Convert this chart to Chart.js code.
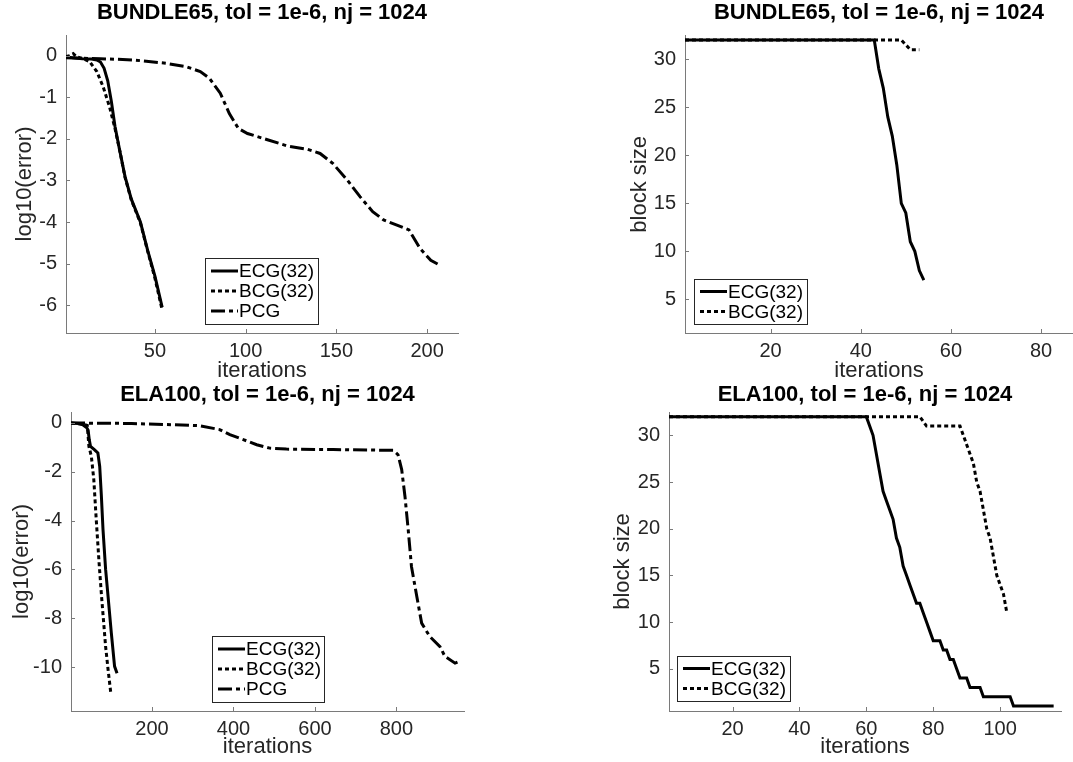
<!DOCTYPE html>
<html>
<head>
<meta charset="utf-8">
<script src="https://cdn.jsdelivr.net/npm/chart.js@4/dist/chart.umd.min.js"></script>
<style>
  body { margin: 0; background: #fff; }
  #wrap { position: relative; width: 1073px; height: 762px; overflow: hidden; background: #fff; }
  #wrap canvas { position: absolute; }
</style>
</head>
<body>
<div id="wrap">
  <canvas id="b65err" width="470" height="384" style="left:0;top:0"></canvas>
  <canvas id="b65blk" width="503" height="384" style="left:570px;top:0"></canvas>
  <canvas id="ela100err" width="470" height="382" style="left:0;top:380px"></canvas>
  <canvas id="ela100blk" width="503" height="382" style="left:570px;top:380px"></canvas>
</div>
<script>
// ---------- BUNDLE65 : log10(error) vs iterations ----------
const b65EcgIt  = [1, 5, 10, 15, 18, 20, 22, 24, 26, 28, 30.7, 33.5, 37, 42, 46, 50, 54];
const b65EcgErr = [-0.02, -0.05, -0.07, -0.08, -0.1, -0.15, -0.3, -0.6, -1.1, -1.7, -2.3, -2.9, -3.45, -4.0, -4.68, -5.3, -6.05];
const b65BcgIt  = [1, 3, 5, 7, 10, 14, 18, 21.5, 25, 28, 30.7, 33.5, 37, 42, 46, 50, 54];
const b65BcgErr = [-0.02, 0.0, 0.05, -0.03, -0.06, -0.14, -0.38, -0.75, -1.23, -1.75, -2.3, -2.92, -3.47, -4.02, -4.7, -5.35, -6.12];
const b65PcgIt  = [1, 20, 38, 56, 67, 75, 80, 86, 91, 96, 101, 112, 123, 134, 141, 148, 156, 163, 170, 176, 183, 190, 196, 202, 207];
const b65PcgErr = [-0.05, -0.07, -0.1, -0.18, -0.26, -0.38, -0.54, -0.9, -1.39, -1.75, -1.87, -2.02, -2.17, -2.25, -2.35, -2.59, -2.99, -3.39, -3.75, -3.95, -4.07, -4.19, -4.63, -4.92, -5.04];
const b65ErrXTicks = [50, 100, 150, 200];
const b65ErrYTicks = [0, -1, -2, -3, -4, -5, -6];

// ---------- BUNDLE65 : block size ----------
const b65EcgBlkIt = [1, 43, 44, 45, 46, 47, 48, 49, 50, 51, 52, 53, 54];
const b65EcgBlk   = [32, 32, 29, 27, 24, 22, 19, 15, 14, 11, 10, 8, 7];
const b65BcgBlkIt = [1, 49, 51, 53];
const b65BcgBlk   = [32, 32, 31, 31];
const b65BlkXTicks = [20, 40, 60, 80];
const b65BlkYTicks = [5, 10, 15, 20, 25, 30];

// ---------- ELA100 : log10(error) vs iterations ----------
const elaEcgIt  = [1, 20, 30, 40, 43, 46, 49, 59, 67, 71.5, 75.6, 79.6, 86, 92, 100, 108, 114];
const elaEcgErr = [0, -0.02, -0.07, -0.2, -0.3, -0.7, -0.96, -1.1, -1.23, -1.78, -3.0, -4.37, -6.0, -7.1, -8.6, -9.97, -10.25];
const elaBcgIt  = [1, 30, 41, 45, 51, 57, 63, 70, 76, 86, 92, 99];
const elaBcgErr = [0, -0.05, -0.1, -0.96, -1.37, -2.32, -3.96, -5.74, -7.1, -9.16, -10.1, -11.1];
const elaPcgIt  = [1, 150, 317, 366, 391, 424, 457, 489, 530, 645, 792, 804, 813, 821, 829, 837, 850, 862, 882, 907, 919, 944, 950];
const elaPcgErr = [0, -0.02, -0.11, -0.27, -0.48, -0.68, -0.89, -1.03, -1.07, -1.09, -1.12, -1.3, -1.91, -3.0, -4.37, -5.88, -7.1, -8.2, -8.75, -9.16, -9.56, -9.84, -9.8];
const elaErrXTicks = [200, 400, 600, 800];
const elaErrYTicks = [0, -2, -4, -6, -8, -10];

// ---------- ELA100 : block size ----------
const elaEcgBlkIt = [1, 60, 61, 62, 63, 64, 65, 66, 67, 68, 69, 70, 71, 72, 73, 74, 75, 76, 77, 78, 79, 80, 82, 83, 84, 85, 86, 87, 88, 90, 91, 94, 95, 103, 104, 116];
const elaEcgBlk   = [32, 32, 31, 30, 28, 26, 24, 23, 22, 21, 19, 18, 16, 15, 14, 13, 12, 12, 11, 10, 9, 8, 8, 7, 7, 6, 6, 5, 4, 4, 3, 3, 2, 2, 1, 1];
const elaBcgBlkIt = [1, 76, 78, 88, 89, 90, 91, 92, 93, 94, 95, 96, 97, 98, 99, 100, 101, 102];
const elaBcgBlk   = [32, 32, 31, 31, 30, 29, 28, 27, 25, 24, 22, 20, 19, 17, 15, 14, 13, 11];
const elaBlkXTicks = [20, 40, 60, 80, 100];
const elaBlkYTicks = [5, 10, 15, 20, 25, 30];

// line styles (solid / dotted / dash-dot)
const DASH_ECG = [];
const DASH_BCG = [4, 3];
const DASH_PCG = [14, 4, 4, 4];

const AXIS_GRAY = "#7a7a7a";
const TXT = "#262626";
Chart.defaults.font.family = "'Liberation Sans', Arial, Helvetica, sans-serif";

function xy(xs, ys) {
  return xs.map((x, i) => ({ x: x, y: ys[i] }));
}

// inward tick marks + boxed legend, matlab style
const matlabAxes = {
  id: "matlabAxes",
  afterDatasetsDraw(chart, args, opts) {
    const ctx = chart.ctx;
    const a = chart.chartArea;
    const sx = chart.scales.x, sy = chart.scales.y;
    ctx.save();
    ctx.strokeStyle = AXIS_GRAY;
    ctx.lineWidth = 1;
    ctx.setLineDash([]);
    ctx.beginPath();
    sx.ticks.forEach(t => {
      const px = Math.round(sx.getPixelForValue(t.value)) + 0.5;
      ctx.moveTo(px, a.bottom); ctx.lineTo(px, a.bottom - 4);
    });
    sy.ticks.forEach(t => {
      const py = Math.round(sy.getPixelForValue(t.value)) + 0.5;
      ctx.moveTo(a.left, py); ctx.lineTo(a.left + 4, py);
    });
    ctx.stroke();

    const L = opts.legend;
    if (L) {
      const ds = chart.data.datasets;
      const h = L.rowH * ds.length + L.padY * 2;
      ctx.fillStyle = "#fff";
      ctx.fillRect(L.x, L.y, L.w, h);
      ctx.strokeStyle = "#262626";
      ctx.lineWidth = 1;
      ctx.strokeRect(L.x + 0.5, L.y + 0.5, L.w, h);
      ctx.font = "19px 'Liberation Sans', Arial, sans-serif";
      ctx.textBaseline = "middle";
      ctx.textAlign = "left";
      ds.forEach((d, i) => {
        const cy = L.y + L.padY + L.rowH * i + L.rowH / 2;
        ctx.strokeStyle = "#000";
        ctx.lineWidth = 3;
        ctx.setLineDash(d.borderDash || []);
        ctx.beginPath();
        ctx.moveTo(L.x + 6, cy); ctx.lineTo(L.x + 33, cy);
        ctx.stroke();
        ctx.fillStyle = "#000";
        ctx.fillText(d.label, L.x + 34, cy + 1);
      });
    }
    ctx.restore();
  }
};

function makePanel(id, cfg) {
  return new Chart(document.getElementById(id), {
    type: "line",
    data: {
      datasets: cfg.series.map(s => ({
        label: s.label,
        data: xy(s.x, s.y),
        borderColor: "#000",
        borderWidth: 3,
        borderDash: s.dash,
        pointRadius: 0,
        tension: 0,
        fill: false
      }))
    },
    options: {
      responsive: false,
      animation: false,
      events: [],
      layout: { padding: { left: 0, right: cfg.padRight, top: 0, bottom: 0 } },
      plugins: {
        legend: { display: false },
        tooltip: { enabled: false },
        title: {
          display: true, text: cfg.title, fullSize: false, color: "#000",
          font: { size: 22, weight: "bold" },
          padding: { top: cfg.titlePad[0], bottom: cfg.titlePad[1] }
        },
        matlabAxes: { legend: cfg.legend }
      },
      scales: {
        x: {
          type: "linear", min: cfg.xRange[0], max: cfg.xRange[1],
          afterBuildTicks: s => { s.ticks = cfg.xTicks.map(v => ({ value: v })); },
          afterFit: s => { s.height = cfg.xAxisH; },
          grid: { display: false, drawTicks: false },
          border: { display: true, color: AXIS_GRAY, width: 1 },
          ticks: { color: TXT, font: { size: 20 }, padding: 6, maxRotation: 0, autoSkip: false },
          title: { display: true, text: "iterations", color: TXT, font: { size: 22 }, padding: { top: 0, bottom: cfg.xTitlePad } }
        },
        y: {
          type: "linear", min: cfg.yRange[0], max: cfg.yRange[1],
          afterBuildTicks: s => { s.ticks = cfg.yTicks.map(v => ({ value: v })); },
          afterFit: s => { s.width = cfg.yAxisW; },
          grid: { display: false, drawTicks: false },
          border: { display: true, color: AXIS_GRAY, width: 1 },
          ticks: { color: TXT, font: { size: 20 }, padding: 9, autoSkip: false },
          title: { display: true, text: cfg.yTitle, color: TXT, font: { size: 22 }, padding: { top: cfg.yTitlePad, bottom: 0 } }
        }
      }
    },
    plugins: [matlabAxes]
  });
}

makePanel("b65err", {
  title: "BUNDLE65, tol = 1e-6, nj = 1024", titlePad: [0, 8.6],
  yTitle: "log10(error)", yTitlePad: 12, yAxisW: 66, xAxisH: 51, xTitlePad: 0, padRight: 12,
  xRange: [1, 217], yRange: [-6.67, 0.5], xTicks: b65ErrXTicks, yTicks: b65ErrYTicks,
  legend: { x: 205, y: 258, w: 113, rowH: 20, padY: 3 },
  series: [
    { label: "ECG(32)", x: b65EcgIt, y: b65EcgErr, dash: DASH_ECG },
    { label: "BCG(32)", x: b65BcgIt, y: b65BcgErr, dash: DASH_BCG },
    { label: "PCG", x: b65PcgIt, y: b65PcgErr, dash: DASH_PCG }
  ]
});

makePanel("b65blk", {
  title: "BUNDLE65, tol = 1e-6, nj = 1024", titlePad: [0, 9.3],
  yTitle: "block size", yTitlePad: 57, yAxisW: 115, xAxisH: 51, xTitlePad: 0, padRight: 0,
  xRange: [1, 87.1], yRange: [1.5, 32.45], xTicks: b65BlkXTicks, yTicks: b65BlkYTicks,
  legend: { x: 124, y: 279, w: 113, rowH: 20, padY: 2.5 },
  series: [
    { label: "ECG(32)", x: b65EcgBlkIt, y: b65EcgBlk, dash: DASH_ECG },
    { label: "BCG(32)", x: b65BcgBlkIt, y: b65BcgBlk, dash: DASH_BCG }
  ]
});

makePanel("ela100err", {
  title: "ELA100, tol = 1e-6, nj = 1024", titlePad: [2, 3.6],
  yTitle: "log10(error)", yTitlePad: 9, yAxisW: 71, xAxisH: 51, xTitlePad: 2, padRight: 6,
  xRange: [1, 966], yRange: [-11.8, 0.45], xTicks: elaErrXTicks, yTicks: elaErrYTicks,
  legend: { x: 212, y: 256, w: 112, rowH: 20, padY: 3 },
  series: [
    { label: "ECG(32)", x: elaEcgIt, y: elaEcgErr, dash: DASH_ECG },
    { label: "BCG(32)", x: elaBcgIt, y: elaBcgErr, dash: DASH_BCG },
    { label: "PCG", x: elaPcgIt, y: elaPcgErr, dash: DASH_PCG }
  ]
});

makePanel("ela100blk", {
  title: "ELA100, tol = 1e-6, nj = 1024", titlePad: [2, 3.6],
  yTitle: "block size", yTitlePad: 40, yAxisW: 99, xAxisH: 51, xTitlePad: 2, padRight: 12,
  xRange: [1, 118.2], yRange: [0.47, 32.5], xTicks: elaBlkXTicks, yTicks: elaBlkYTicks,
  legend: { x: 107, y: 276, w: 113, rowH: 20, padY: 2.5 },
  series: [
    { label: "ECG(32)", x: elaEcgBlkIt, y: elaEcgBlk, dash: DASH_ECG },
    { label: "BCG(32)", x: elaBcgBlkIt, y: elaBcgBlk, dash: DASH_BCG }
  ]
});
</script>
</body>
</html>
